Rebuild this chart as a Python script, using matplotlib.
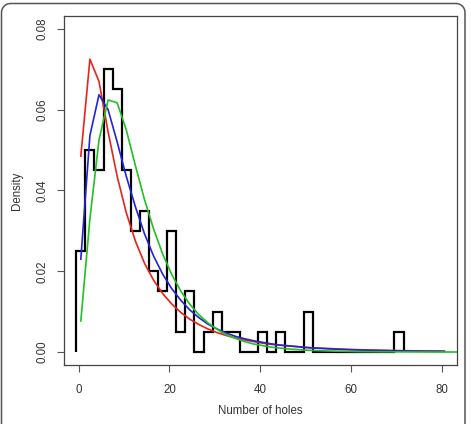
import numpy as np
import matplotlib
matplotlib.use("Agg")
import matplotlib.pyplot as plt
from matplotlib.lines import Line2D
from matplotlib.transforms import IdentityTransform

# histogram of hole counts: bins of width 2 starting at -0.5
bin_start = -0.5
bin_width = 2.0
counts = [5, 10, 9, 14, 13, 9, 6, 7, 4, 3, 6, 1, 3, 0, 1, 2, 1, 1, 0, 0,
          1, 0, 1, 0, 0, 2, 0, 0, 0, 0, 0, 0, 0, 0, 0, 1]

# fitted densities, evaluated at the bin mids
x_mid = [0.5, 2.5, 4.5, 6.5, 8.5, 10.5, 12.5, 14.5, 16.5, 18.5, 20.5, 22.5, 24.5,
         26.5, 28.5, 30.5, 32.5, 34.5, 36.5, 38.5, 40.5, 42.5, 44.5, 46.5, 48.5,
         50.5, 52.5, 54.5, 56.5, 58.5, 60.5, 62.5, 64.5, 66.5, 68.5, 70.5, 72.5,
         74.5, 76.5, 78.5, 80.5, 82.5, 84.5]
fit_red = [0.0485, 0.0725, 0.0670, 0.0545, 0.0435, 0.0345, 0.0275, 0.0220, 0.0178,
           0.0145, 0.0119, 0.0098, 0.0081, 0.0068, 0.0057, 0.0048, 0.0041, 0.0035,
           0.0030, 0.0026, 0.0022, 0.0019, 0.0017, 0.0015, 0.0013, 0.0011, 0.0010,
           0.0009, 0.0008, 0.0007, 0.00062, 0.00056, 0.0005, 0.00045, 0.0004,
           0.00036, 0.00033, 0.0003, 0.00027, 0.00025, 0.00023]
fit_blue = [0.0230, 0.0536, 0.0637, 0.0600, 0.0520, 0.0435, 0.0360, 0.0293, 0.0238,
            0.0193, 0.0157, 0.0128, 0.0104, 0.0085, 0.0069, 0.0057, 0.0047, 0.0039,
            0.0033, 0.0028, 0.0024, 0.0020, 0.0017, 0.0015, 0.0013, 0.0011, 0.00095,
            0.00083, 0.00072, 0.00063, 0.00055, 0.00048, 0.00042, 0.00037, 0.00033,
            0.00029, 0.00026, 0.00023, 0.0002, 0.00018, 0.00016]
fit_green = [0.0077, 0.0330, 0.0525, 0.0624, 0.0617, 0.0550, 0.0462, 0.0378, 0.0305,
             0.0243, 0.0192, 0.0151, 0.0118, 0.0092, 0.0072, 0.0056, 0.0043, 0.0034,
             0.0026, 0.0020, 0.0016, 0.0012, 0.00095, 0.00074, 0.00058, 0.00045,
             0.00035, 0.00028, 0.00022, 0.00017, 0.00013, 0.0001, 0.00008, 0.00006,
             0.00005, 0.00004, 0.00003, 0.00002, 0.00002, 0.00001, 0.00001,
             0.00001, 0.00001]

xticks = [0, 20, 40, 60, 80]
yticks = [0.00, 0.02, 0.04, 0.06, 0.08]

plt.rcParams["font.family"] = ["Liberation Sans", "DejaVu Sans"]
txt = "#333333"

fig = plt.figure(figsize=(4.71, 4.24), dpi=100)
ax = fig.add_axes([0.1359, 0.1392, 0.8337, 0.8231])

counts = np.array(counts, dtype=float)
edges = bin_start + bin_width * np.arange(len(counts) + 1)
dens = counts / (counts.sum() * bin_width)
ax.stairs(dens, edges, baseline=0, color="black", lw=1.6)

ax.plot(x_mid[:len(fit_red)], fit_red, color="#e8231c", lw=1.2)
ax.plot(x_mid[:len(fit_blue)], fit_blue, color="#2323d8", lw=1.2)
ax.plot(x_mid[:len(fit_green)], fit_green, color="#22c022", lw=1.2)

ax.set_xlim(-3.2, 83.2)
ax.set_ylim(-0.0032, 0.0832)
ax.set_xticks(xticks)
ax.set_xticklabels([str(v) for v in xticks])
ax.set_yticks(yticks)
ax.set_yticklabels([f"{v:.2f}" for v in yticks], rotation=90, va="center")
ax.tick_params(axis="both", direction="out", length=5, width=0.8,
               colors="#555555", labelcolor=txt, labelsize=8.3)
ax.tick_params(axis="x", pad=9)
ax.tick_params(axis="y", pad=6)
for s in ax.spines.values():
    s.set_color("#444444")
    s.set_linewidth(0.9)

fig.text(17 / 471, 1 - 190.5 / 424, "Density", rotation=90, ha="center",
         va="center", fontsize=8.3, color=txt)
fig.text(260.4 / 471, 1 - 411.5 / 424, "Number of holes", ha="center",
         va="center", fontsize=8.3, color=txt)

# outer frame with rounded top corners, open at the bottom (pixel coords)
r = 9.0
left, right, top = 1.5, 465.0, 420.5
a = np.linspace(0, np.pi / 2, 12)
fx = np.concatenate([[left], left + r - r * np.cos(a),
                     right - r + r * np.sin(a), [right]])
fy = np.concatenate([[0.0], top - r + r * np.sin(a),
                     top - r + r * np.cos(a), [0.0]])
fig.add_artist(Line2D(fx, fy, transform=IdentityTransform(), color="#555555",
                      lw=1.1, clip_on=False))

fig.savefig("out.png", dpi=100)
